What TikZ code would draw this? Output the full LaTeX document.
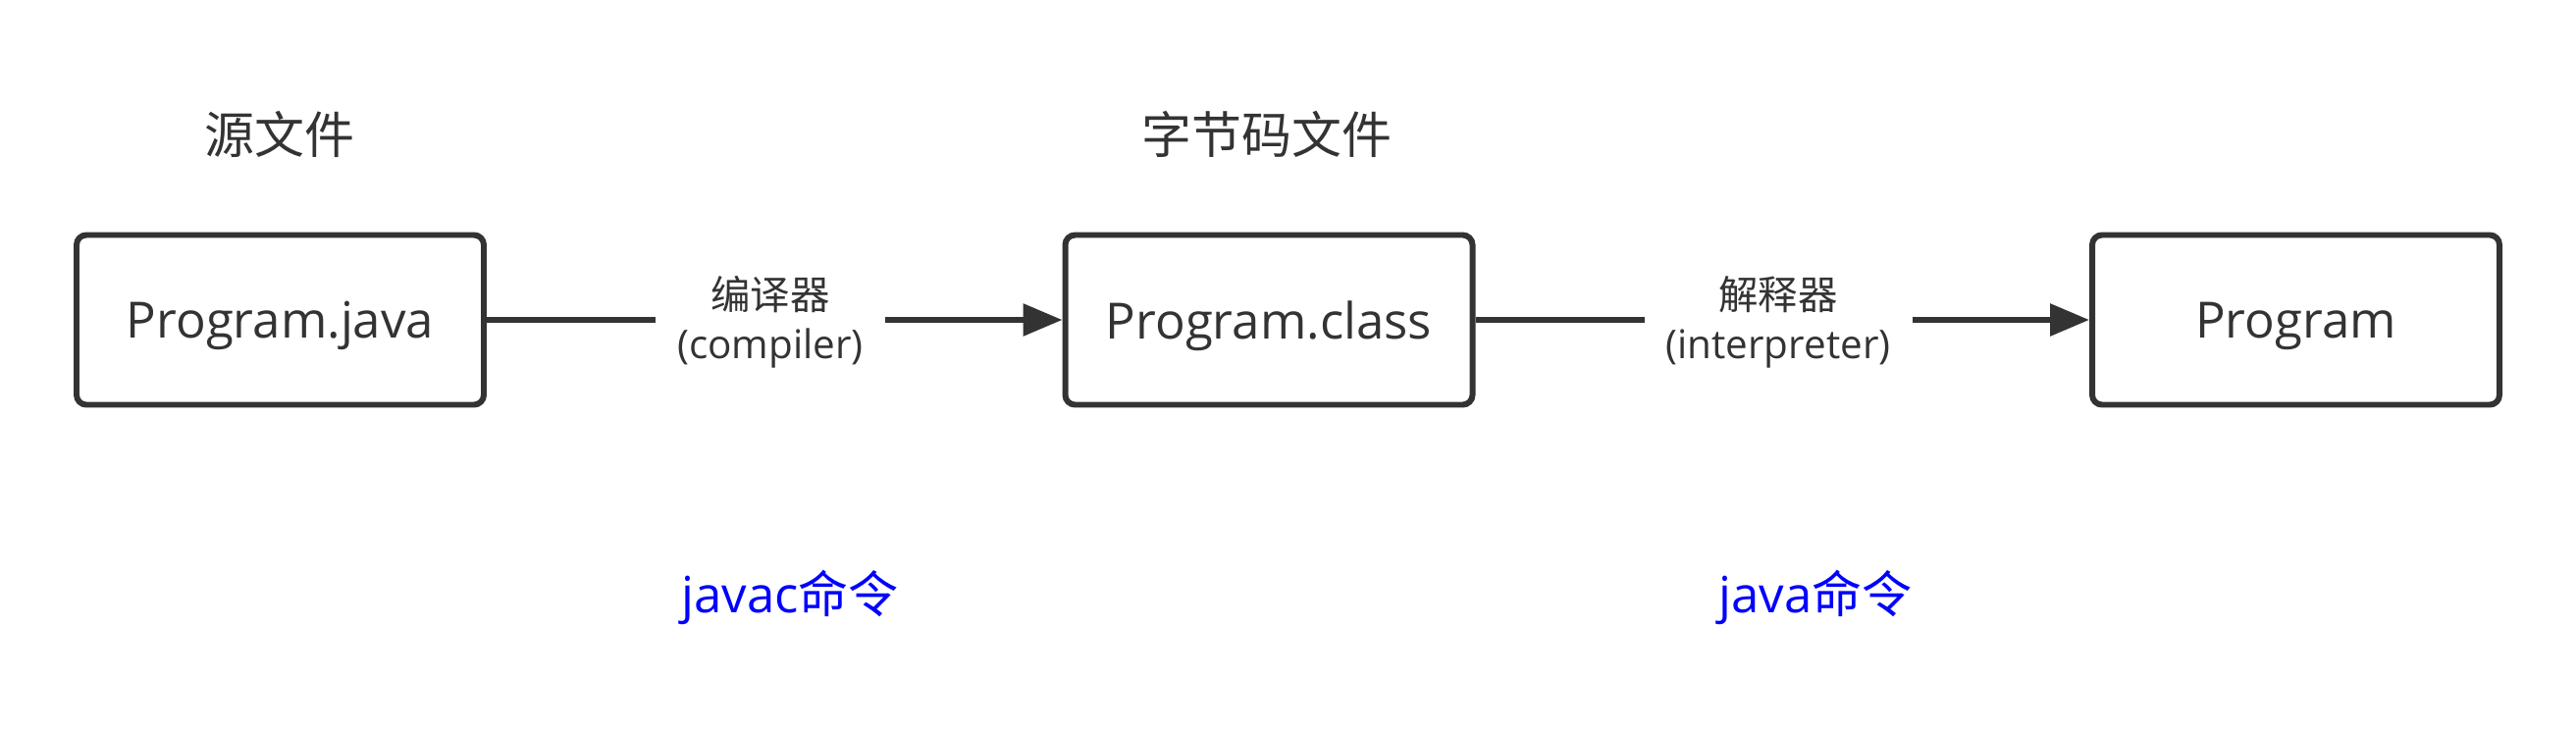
\documentclass[tikz,border=0pt]{standalone}
\usepackage{fontspec}
\setmainfont{Open Sans}
\newfontfamily\cjk{Noto Sans CJK SC}
\usetikzlibrary{arrows.meta, positioning}
\definecolor{ink}{HTML}{333333}
\definecolor{cmdblue}{HTML}{0000FF}

\begin{document}
\begin{tikzpicture}[
        file/.style={rectangle, draw=ink, line width=1.7pt, rounded corners=0.1cm,
                     minimum width=4.15cm, minimum height=1.73cm, text depth=0pt,
                     text=ink, font=\fontsize{14.5}{17}\selectfont},
        heading/.style={text=ink, font=\cjk\fontsize{14.5}{17}\selectfont},
        tool/.style={align=center, inner xsep=0.22cm, inner ysep=0pt, outer sep=0pt,
                     text=ink, font=\fontsize{11.5}{14.2}\selectfont},
        command/.style={text=cmdblue, font=\fontsize{14.5}{17}\selectfont},
        link/.style={draw=ink, line width=1.7pt},
        arrow/.style={link, -{Triangle[length=0.40cm, width=0.32cm]}}
    ]
        \useasboundingbox (0,0) rectangle (26.25,7.44);

        % Files
        \node[file] (source) at (2.855,4.18) {Program.java};
        \node[file] (bytecode) at (12.93,4.18) {Program.class};
        \node[file] (program) at (23.395,4.18) {Program};

        % Headings
        \node[heading] (sourcetitle) at (2.85,6.07) {源文件};
        \node[heading] (bytecodetitle) at (12.91,6.07) {字节码文件};

        % Tools
        \node[tool] (compiler) at (7.85,4.16) {{\cjk 编译器}\\(compiler)};
        \node[tool] (interpreter) at (18.12,4.16) {{\cjk 解释器}\\(interpreter)};

        % Connections
        \draw[link] (source) -- (source -| compiler.west);
        \draw[arrow] (bytecode -| compiler.east) -- (bytecode);
        \draw[link] (bytecode) -- (bytecode -| interpreter.west);
        \draw[arrow] (program -| interpreter.east) -- (program);

        % Commands
        \node[command] (javac) at (8.05,1.35) {javac{\cjk 命令}};
        \node[command] (java) at (18.5,1.35) {java{\cjk 命令}};
    \end{tikzpicture}
\end{document}
